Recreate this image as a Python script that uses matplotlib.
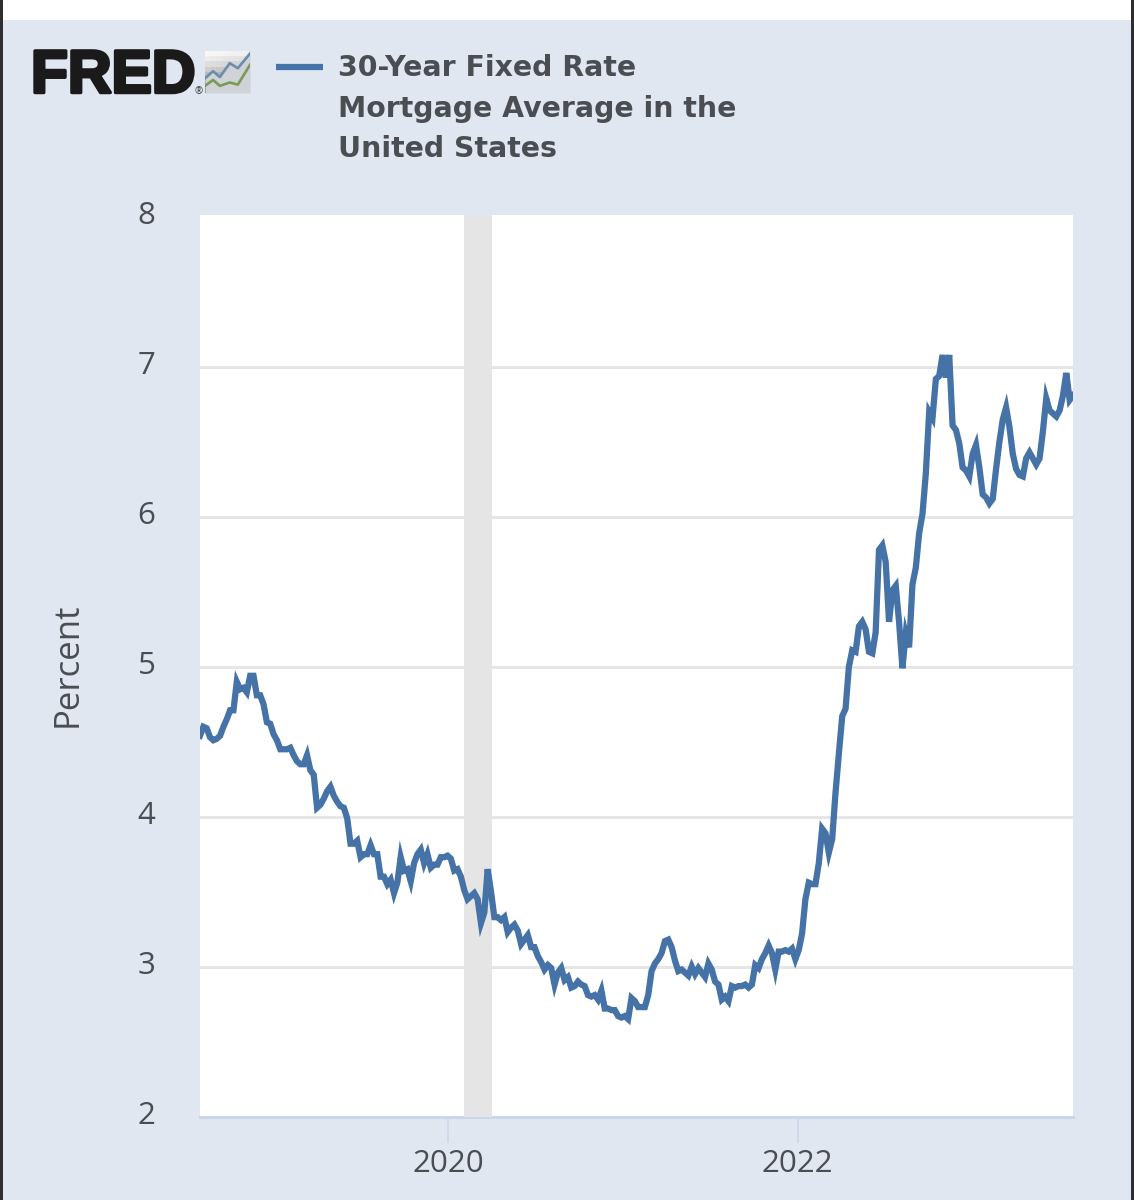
import numpy as np
import matplotlib
matplotlib.use('Agg')
import matplotlib.pyplot as plt
import matplotlib.patheffects as pe
from matplotlib.patches import Rectangle
from matplotlib.transforms import ScaledTranslation

W, H = 1134, 1200

# weekly survey rate, percent, first reading 2018-07-26
rates = [
    4.54, 4.60, 4.59, 4.53, 4.51, 4.52, 4.54, 4.60, 4.65, 4.71, 4.71, 4.90, 4.85, 4.86, 4.83, 4.94, 4.94, 4.81, 4.81, 4.75, 4.63, 4.62, 4.55,
    4.51, 4.45, 4.45, 4.45, 4.46, 4.41, 4.37, 4.35, 4.35, 4.41, 4.31, 4.28, 4.06, 4.08, 4.12, 4.17, 4.20, 4.14, 4.10, 4.07, 4.06, 3.99, 3.82,
    3.82, 3.84, 3.73, 3.75, 3.75, 3.81, 3.75, 3.75, 3.60, 3.60, 3.55, 3.58, 3.49, 3.56, 3.73, 3.64, 3.65, 3.57, 3.69, 3.75, 3.78, 3.69, 3.75,
    3.66, 3.68, 3.68, 3.73, 3.73, 3.74,
    3.72, 3.64, 3.65, 3.60, 3.51, 3.45, 3.47, 3.49, 3.45, 3.29, 3.36, 3.65, 3.50, 3.33, 3.33, 3.31, 3.33, 3.23, 3.26, 3.28, 3.24, 3.15, 3.18,
    3.21, 3.13, 3.13, 3.07, 3.03, 2.98, 3.01, 2.99, 2.88, 2.96, 2.99, 2.91, 2.93, 2.86, 2.87, 2.90, 2.88, 2.87, 2.81, 2.80, 2.81, 2.78, 2.84,
    2.72, 2.72, 2.71, 2.71, 2.67, 2.66, 2.67,
    2.65, 2.79, 2.77, 2.73, 2.73, 2.73, 2.81, 2.97, 3.02, 3.05, 3.09, 3.17, 3.18, 3.13, 3.04, 2.97, 2.98, 2.96, 2.94, 3.00, 2.95, 2.99, 2.96,
    2.93, 3.02, 2.98, 2.90, 2.88, 2.78, 2.80, 2.77, 2.87, 2.86, 2.87, 2.87, 2.88, 2.86, 2.88, 3.01, 2.99, 3.05, 3.09, 3.14, 3.09, 2.98, 3.10,
    3.10, 3.11, 3.10, 3.12, 3.05, 3.11,
    3.22, 3.45, 3.56, 3.55, 3.55, 3.69, 3.92, 3.89, 3.76, 3.85, 4.16, 4.42, 4.67, 4.72, 5.00, 5.11, 5.10, 5.27, 5.30, 5.25, 5.10, 5.09, 5.23,
    5.78, 5.81, 5.70, 5.30, 5.51, 5.54, 5.30, 4.99, 5.22, 5.13, 5.55, 5.66, 5.89, 6.02, 6.29, 6.70, 6.66, 6.92, 6.94, 7.08, 6.93, 7.08, 6.61,
    6.58, 6.49, 6.33, 6.31, 6.27, 6.42,
    6.48, 6.33, 6.15, 6.13, 6.09, 6.12, 6.32, 6.50, 6.65, 6.73, 6.60, 6.42, 6.32, 6.28, 6.27, 6.39, 6.43, 6.39, 6.35, 6.39, 6.57, 6.79, 6.71,
    6.69, 6.67, 6.71, 6.81, 6.96, 6.78, 6.81,
]
dates = np.datetime64('2018-07-26') + np.arange(len(rates)) * np.timedelta64(7, 'D')

recession_start = np.datetime64('2020-01-30')
recession_end = np.datetime64('2020-03-29')

y_ticks = [2, 3, 4, 5, 6, 7, 8]
x_ticks = [np.datetime64('2019-12-28'), np.datetime64('2021-12-28')]
x_labels = ['2020', '2022']
legend_lines = ['30-Year Fixed Rate', 'Mortgage Average in the', 'United States']

# small sparkline in the logo tile
logo_x = [0, 0.18, 0.33, 0.55, 0.73, 1]
logo_blue = [0.35, 0.52, 0.38, 0.71, 0.59, 0.94]
logo_green = [0.17, 0.31, 0.17, 0.25, 0.20, 0.67]

BG = '#e1e7f0'
LINE = '#4572a7'
GRID = '#e6e6e6'
AXIS = '#ccd6eb'
TEXT = '#4a4d52'

plt.rcParams['font.family'] = 'Open Sans'


def px_x(x):
    return x / W


def px_y(y):
    return 1 - y / H


fig = plt.figure(figsize=(W / 100, H / 100), dpi=100, facecolor=BG)

# white strip on top, dark screenshot edges on the sides
fig.add_artist(Rectangle((0, px_y(20)), 1, 20 / H, transform=fig.transFigure, fc='white', ec='none'))
fig.add_artist(Rectangle((0, 0), 3 / W, 1, transform=fig.transFigure, fc='#2e2e30', ec='none'))
fig.add_artist(Rectangle((px_x(1131), 0), 3 / W, 1, transform=fig.transFigure, fc='#2e2e30', ec='none'))

# the white panel runs a little past the 8 line
ax = fig.add_axes([px_x(200), px_y(1116.5), 873 / W, 901.5 / H])
ax.set_facecolor('white')
ax.plot(dates, rates, color=LINE, lw=4.5, solid_joinstyle='miter', zorder=4)
ax.axvspan(recession_start, recession_end, color='#e5e5e5', lw=0, zorder=3)

ax.set_xlim(dates[0], dates[-1])
ax.set_ylim(2, 8.014)
ax.set_yticks(y_ticks)
ax.set_xticks(x_ticks)
ax.set_xticklabels(x_labels)
ax.grid(axis='y', color=GRID, lw=2.2, zorder=1)
ax.yaxis.get_gridlines()[-1].set_visible(False)
ax.yaxis.get_gridlines()[0].set_visible(False)
ax.set_axisbelow(True)

for side in ['top', 'right', 'left']:
    ax.spines[side].set_visible(False)
ax.spines['bottom'].set_color(AXIS)
ax.spines['bottom'].set_linewidth(2.2)

ax.tick_params(axis='y', length=0, pad=32, labelsize=22.5, labelcolor=TEXT)
ax.tick_params(axis='x', length=19, width=1.1, color=AXIS, pad=4.5, labelsize=22.5, labelcolor=TEXT)

# y labels sit slightly above their grid lines
nudge = ScaledTranslation(0, 4.5 / 100, fig.dpi_scale_trans)
for label in ax.get_yticklabels():
    label.set_transform(label.get_transform() + nudge)

fig.text(px_x(68), px_y(665), 'Percent', rotation=90, ha='center', va='center', fontsize=25, color=TEXT)

# legend key and wrapped series name
fig.add_artist(plt.Line2D([px_x(276), px_x(323)], [px_y(66.5)] * 2, color=LINE, lw=4.5, solid_capstyle='butt'))
for line, y in zip(legend_lines, [76, 117, 157]):
    fig.text(px_x(338), px_y(y), line, ha='left', va='baseline', family='DejaVu Sans',
             fontsize=20.4, fontweight='bold', color='#4a4d52')

# wordmark
word = fig.text(px_x(31), px_y(92.5), 'FRED', ha='left', va='baseline', family='Liberation Sans',
                fontsize=43.5, fontweight='bold', color='#1a1a1a')
word.set_path_effects([pe.withStroke(linewidth=2.5, foreground='#1a1a1a')])
fig.text(px_x(198.5), px_y(94), '®', ha='center', va='baseline', fontsize=7, color='#333333')

# logo tile
tile = fig.add_axes([px_x(205), px_y(93), 45 / W, 42 / H])
tile.imshow(np.linspace(0, 1, 64).reshape(8, 8), cmap='Greys', vmin=-0.1, vmax=1.5, extent=(0, 1, 0, 1), aspect='auto')
tile.fill_between(logo_x, logo_blue, 0, color='#cfd2d6', lw=0)
tile.plot(logo_x, logo_blue, color='#6f8bab', lw=1.9)
tile.plot(logo_x, logo_green, color='#7a9a55', lw=1.9)
tile.set_xlim(0, 1)
tile.set_ylim(0, 1)
tile.axis('off')

fig.savefig('out.png', dpi=100, facecolor=fig.get_facecolor())
